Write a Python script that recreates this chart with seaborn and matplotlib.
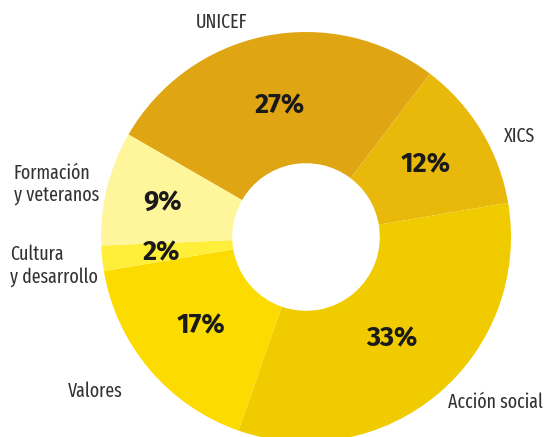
import matplotlib
matplotlib.use("Agg")
import numpy as np
import matplotlib.pyplot as plt
import seaborn as sns

sns.set_style("white")
plt.rcParams["font.family"] = ["Fira Sans", "DejaVu Sans"]

# data, clockwise from UNICEF
categories = ["UNICEF", "XICS", "Acción social", "Valores",
              "Cultura\ny desarrollo", "Formación\ny veteranos"]
shares = [27, 12, 33, 17, 2, 9]
colors = ["#E0A512", "#E8B90B", "#EFCB00", "#FCDB00", "#FFEF3A", "#FFF59B"]

# radial distance of each percentage (fraction of the radius)
pct_dist = [0.655, 0.68, 0.65, 0.67, 0.71, 0.72]

# where each category name sits (data coords, pie radius = 1)
label_pos = {
    "UNICEF": (-0.41, 1.045, "center"),
    "XICS": (1.04, 0.49, "center"),
    "Acción social": (1.155, -0.805, "right"),
    "Valores": (-1.03, -0.755, "center"),
    "Cultura\ny desarrollo": (-1.445, -0.14, "left"),
    "Formación\ny veteranos": (-1.425, 0.255, "left"),
}


def draw_donut(ax):

    wedges, texts, autotexts = ax.pie(
        shares,
        colors=colors,
        startangle=150,
        counterclock=False,
        radius=1.0,
        wedgeprops=dict(width=0.64, linewidth=0),
        autopct="%d%%",
        textprops=dict(color="#1a1a1a", fontsize=19.5, fontweight="bold"),
    )

    # nudge each percentage to its own distance along the wedge bisector
    for w, t, d in zip(wedges, autotexts, pct_dist):
        ang = np.deg2rad((w.theta1 + w.theta2) / 2)
        t.set_position((d * np.cos(ang), d * np.sin(ang)))

    for name in categories:
        x, y, ha = label_pos[name]
        ax.text(x, y, name, ha=ha, va="center", fontsize=14,
                color="#333333", linespacing=1.25,
                family=["Fira Sans Extra Condensed", "DejaVu Sans"])

    ax.set_xlim(-306 / 205, (545 - 306) / 205)
    ax.set_ylim(-(437 - 237) / 205, 237 / 205)
    ax.set_aspect("equal")
    ax.axis("off")


if __name__ == "__main__":

    fig = plt.figure(figsize=(5.45, 4.37), dpi=100)
    ax = fig.add_axes([0, 0, 1, 1])
    draw_donut(ax)
    fig.savefig("out.png", dpi=100)
